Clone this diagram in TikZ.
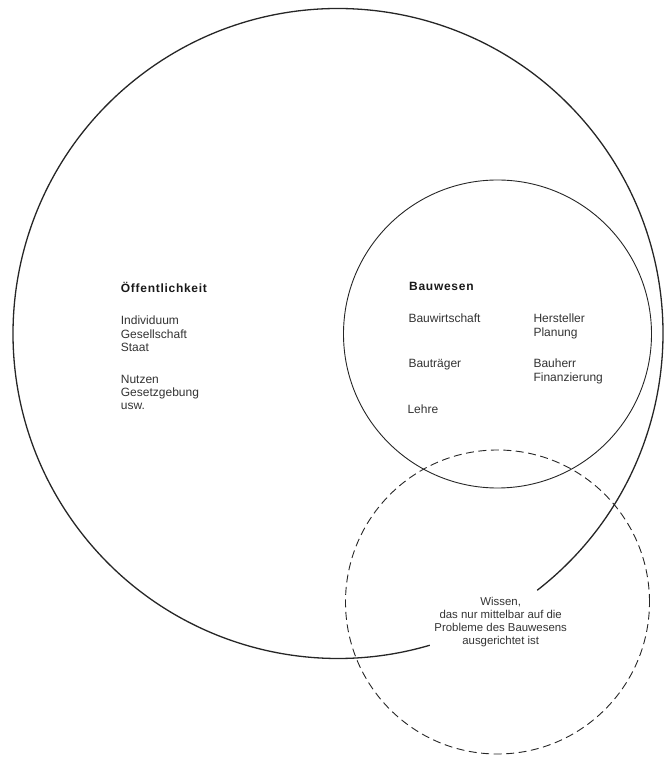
\documentclass[tikz,border=0pt]{standalone}
\usepackage{fontspec}
\setmainfont{Liberation Sans}
\newfontfamily\headfont[LetterSpace=6]{Liberation Sans}
\begin{document}
\begin{tikzpicture}[x=1pt,y=1pt,
  txt/.style={inner sep=0pt, anchor=base west,
    font=\fontsize{12}{13.3}\selectfont, text=black!80},
  head/.style={txt, font=\headfont\bfseries\fontsize{12}{13.3}\selectfont, text=black!90},
  ctr/.style={txt, anchor=base, font=\fontsize{11.4}{13}\selectfont},
  ring/.style={circle, draw=black!85, line width=0.9pt, inner sep=0pt},
  outer/.style={draw=black!85, line width=1.3pt}]
\useasboundingbox (0,0) rectangle (665,764);

% open outer circle: Öffentlichkeit
\coordinate (oc) at (338,430.5);
\draw[outer] (oc) ++(-52.2:325pt) arc[start angle=-52.2, end angle=286.4, radius=325pt];

% Bauwesen circle and the dashed circle of indirect knowledge
\node[ring, minimum size=308pt] (bau) at (497.5,430) {};
\node[ring, dash pattern=on 8pt off 4.5pt, minimum size=304pt] (wis) at (497.5,162) {};

% Öffentlichkeit
\node[head] (oef) at (120.7,471) {Öffentlichkeit};
\node[txt] (ind) at (120.7,439) {Individuum};
\node[txt] (ges) at (120.7,425.7) {Gesellschaft};
\node[txt] (sta) at (120.7,412.4) {Staat};
\node[txt] (nut) at (120.7,380.7) {Nutzen};
\node[txt] (gsg) at (120.7,367.4) {Gesetzgebung};
\node[txt] (usw) at (120.7,354.1) {usw.};

% Bauwesen
\node[head] (bwe) at (409,473.5) {Bauwesen};
\node[txt] (bwi) at (408.3,441) {Bauwirtschaft};
\node[txt] (her) at (533.3,441) {Hersteller};
\node[txt] (pla) at (533.3,427.7) {Planung};
\node[txt] (btr) at (408.3,396) {Bauträger};
\node[txt] (bhe) at (533.3,396) {Bauherr};
\node[txt] (fin) at (533.3,382.7) {Finanzierung};
\node[txt] (leh) at (407.3,350.4) {Lehre};

% Wissen
\node[ctr] (w1) at (500.7,158) {Wissen,};
\node[ctr] (w2) at (500.7,145) {das nur mittelbar auf die};
\node[ctr] (w3) at (500.7,132) {Probleme des Bauwesens};
\node[ctr] (w4) at (500.7,119) {ausgerichtet ist};
\end{tikzpicture}
\end{document}
